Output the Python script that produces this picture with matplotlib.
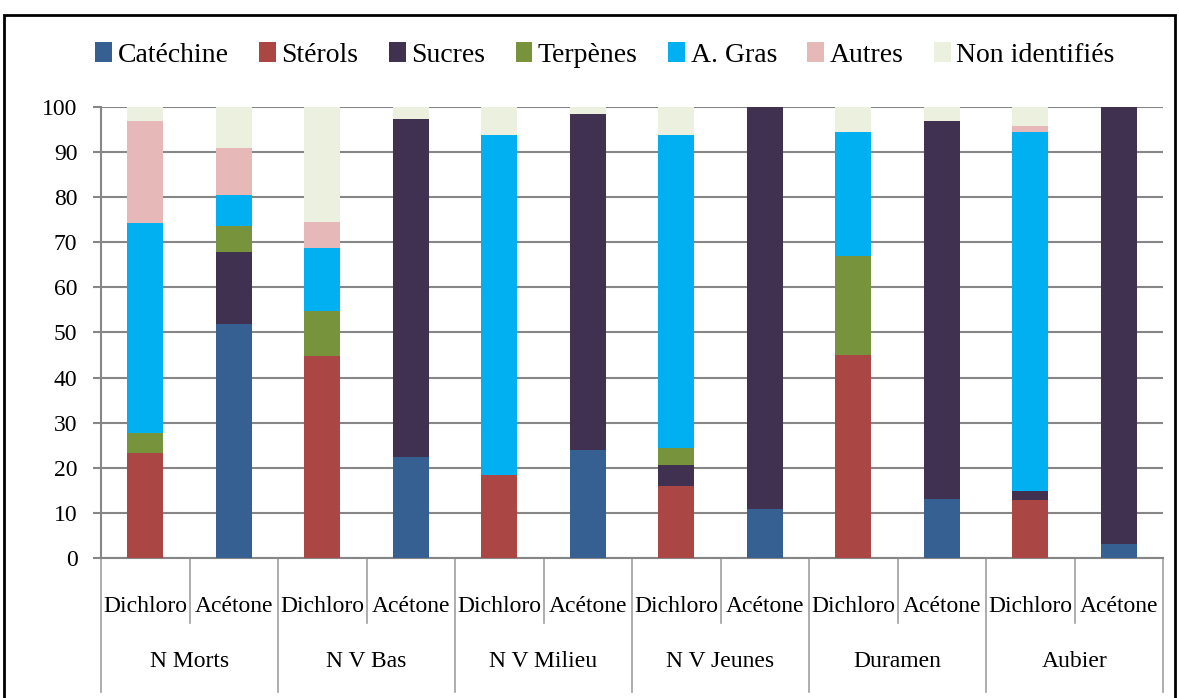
import matplotlib.pyplot as plt
import numpy as np
from matplotlib.patches import Rectangle

plt.rcParams['font.family'] = ['Liberation Serif', 'DejaVu Serif']

groups = ["N Morts", "N V Bas", "N V Milieu", "N V Jeunes", "Duramen", "Aubier"]
solvants = ["Dichloro", "Acétone"]
series = ["Catéchine", "Stérols", "Sucres", "Terpènes", "A. Gras", "Autres", "Non identifiés"]
colors = ["#376092", "#AA4644", "#403151", "#77933C", "#00B0F0", "#E6B9B8", "#EBF1DE"]

# one value per bar: N Morts D, N Morts A, N V Bas D, ... Aubier A
catechine = [0, 51.9, 0, 22.4, 0, 24.0, 0, 10.9, 0, 13.1, 0, 3.0]
sterols   = [23.3, 0, 44.9, 0, 18.5, 0, 16.0, 0, 45.0, 0, 12.9, 0]
sucres    = [0, 15.9, 0, 74.9, 0, 74.4, 4.7, 89.1, 0, 83.9, 2.0, 97.0]
terpenes  = [4.4, 5.9, 9.9, 0, 0, 0, 3.8, 0, 22.0, 0, 0, 0]
a_gras    = [46.5, 6.7, 13.9, 0, 75.2, 0, 69.2, 0, 27.4, 0, 79.5, 0]
autres    = [22.8, 10.4, 5.8, 0, 0, 0, 0, 0, 0, 0, 1.4, 0]
non_ident = [3.0, 9.2, 25.5, 2.7, 6.3, 1.6, 6.3, 0, 5.6, 3.0, 4.2, 0]

data = [catechine, sterols, sucres, terpenes, a_gras, autres, non_ident]

fig = plt.figure(figsize=(11.79, 6.98), dpi=100)
ax = fig.add_axes([101/1179, 1 - 558/698, (1163-101)/1179, (558-107)/698])

x = np.arange(len(groups) * len(solvants))
bottom = np.zeros(len(x))
for name, vals, c in zip(series, data, colors):
    ax.bar(x, vals, width=0.41, bottom=bottom, color=c, label=name, zorder=3)
    bottom += np.array(vals)

ax.set_xlim(-0.5, len(x) - 0.5)
ax.set_ylim(0, 100)
ax.set_yticks(np.arange(0, 101, 10))
ax.yaxis.grid(True, color='#868686', lw=1.5, zorder=0)
ax.tick_params(axis='y', length=6, width=1.5, color='#868686', labelsize=17, pad=11)

for s in ['top', 'right']:
    ax.spines[s].set_visible(False)
for s in ['left', 'bottom']:
    ax.spines[s].set_color('#868686')
    ax.spines[s].set_linewidth(1.5)

ax.set_xticks(x)
ax.set_xticklabels(solvants * len(groups), fontsize=17)
ax.tick_params(axis='x', length=0, pad=27)

# separators under the axis
trans = ax.get_xaxis_transform()
for k in range(len(x) + 1):
    xb = k - 0.5
    y_end = -0.297 if k % 2 == 0 else -0.144
    ax.plot([xb, xb], [0, y_end], transform=trans, color='#A0A0A0', lw=1.2, clip_on=False)

for i, g in enumerate(groups):
    ax.text(2 * i + 0.5, -0.23, g, transform=trans, ha='center', va='center', fontsize=17)

handles, labels = ax.get_legend_handles_labels()
fig.legend(handles, labels, loc='center', bbox_to_anchor=(605/1179, 1 - 55/698), ncol=7,
           frameon=False, fontsize=20, handlelength=0.6, handleheight=0.7,
           handletextpad=0.2, columnspacing=1.1)

# outer frame of the chart
fig.patches.append(Rectangle((4/1179, -0.05), (1175-4)/1179, 1 - 15/698 + 0.05,
                             transform=fig.transFigure, fill=False, edgecolor='black', lw=2))

fig.savefig('out.png', dpi=100)
